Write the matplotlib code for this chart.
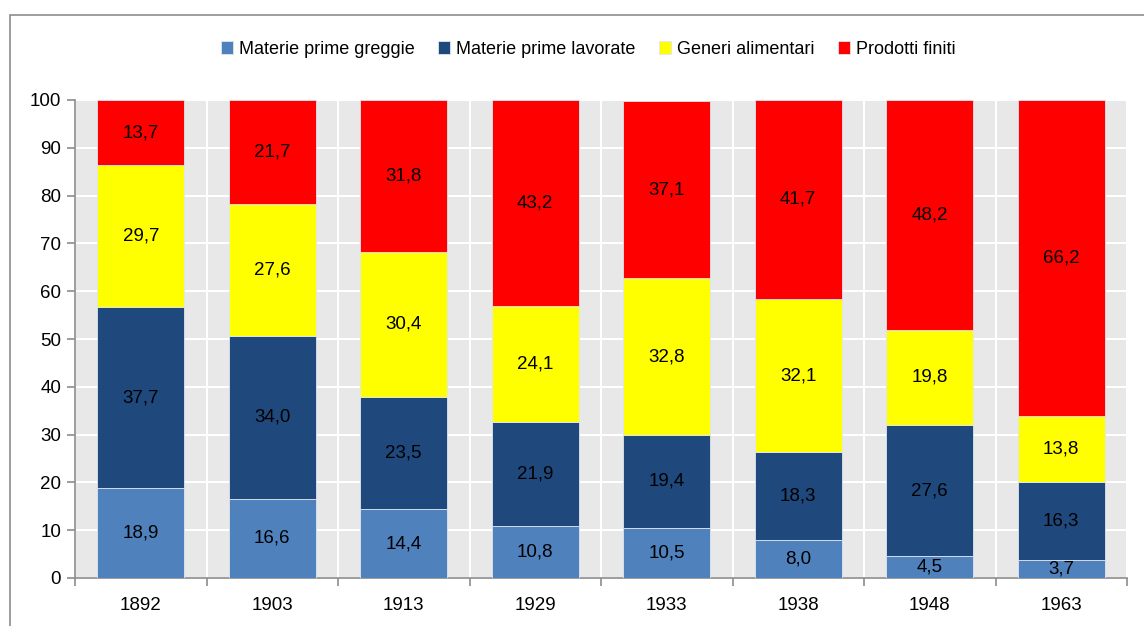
import matplotlib
matplotlib.use("Agg")
import matplotlib.pyplot as plt
from matplotlib.patches import Rectangle
import numpy as np

plt.rcParams['font.family'] = ['Liberation Sans Narrow', 'Liberation Sans', 'DejaVu Sans']

years = ["1892", "1903", "1913", "1929", "1933", "1938", "1948", "1963"]
series_names = ["Materie prime greggie", "Materie prime lavorate",
                "Generi alimentari", "Prodotti finiti"]
greggie = [18.9, 16.6, 14.4, 10.8, 10.5, 8.0, 4.5, 3.7]
lavorate = [37.7, 34.0, 23.5, 21.9, 19.4, 18.3, 27.6, 16.3]
alimentari = [29.7, 27.6, 30.4, 24.1, 32.8, 32.1, 19.8, 13.8]
finiti = [13.7, 21.7, 31.8, 43.2, 37.1, 41.7, 48.2, 66.2]
colors = ["#4F81BD", "#1F497D", "#FFFF00", "#FF0000"]

fig = plt.figure(figsize=(11.44, 6.26), dpi=100)
ax = fig.add_axes([75 / 1144, 1 - 578 / 626, 1052 / 1144, 478 / 626])

# outer chart frame
fig.patches.append(Rectangle((10 / 1144, -0.1), 1.2, 1.1 - 15 / 626,
                             transform=fig.transFigure, fill=False,
                             edgecolor="#8c8c8c", lw=1.2))

x = np.arange(len(years))
bottom = np.zeros(len(years))
for name, vals, col in zip(series_names, [greggie, lavorate, alimentari, finiti], colors):
    vals = np.array(vals)
    ax.bar(x, vals, 0.66, bottom=bottom, color=col, label=name,
           edgecolor="#dfe6f0", linewidth=0.6, zorder=3)
    for xi, b, v in zip(x, bottom, vals):
        ax.text(xi, b + v / 2, f"{v:.1f}".replace(".", ","), ha="center", va="center",
                fontsize=13.5, color="black", zorder=4)
    bottom += vals

ax.set_facecolor("#E8E8E8")
ax.set_xlim(-0.5, len(years) - 0.5)
ax.set_ylim(0, 100)
ax.set_yticks(np.arange(0, 101, 10))
ax.set_xticks(x)
ax.set_xticklabels(years)
ax.set_xticks(np.arange(-0.5, len(years), 1), minor=True)
ax.tick_params(axis="x", which="major", length=0, labelsize=13.5, pad=14)
ax.tick_params(axis="x", which="minor", length=6, color="#8c8c8c", width=1.2)
ax.tick_params(axis="y", length=6, color="#8c8c8c", width=1.2, labelsize=13.5, pad=4)
ax.grid(axis="y", color="white", lw=1.5, zorder=1)
ax.grid(axis="x", which="minor", color="white", lw=1.5, zorder=1)
ax.set_axisbelow(True)
for s in ["top", "right"]:
    ax.spines[s].set_visible(False)
for s in ["left", "bottom"]:
    ax.spines[s].set_color("#8c8c8c")
    ax.spines[s].set_linewidth(1.2)

fig.legend(loc="center", bbox_to_anchor=(588 / 1144, 1 - 49 / 626), ncol=4,
           frameon=False, fontsize=13, handlelength=0.7, handleheight=0.7,
           handletextpad=0.3, columnspacing=1.3)

fig.savefig("out.png", dpi=100)
